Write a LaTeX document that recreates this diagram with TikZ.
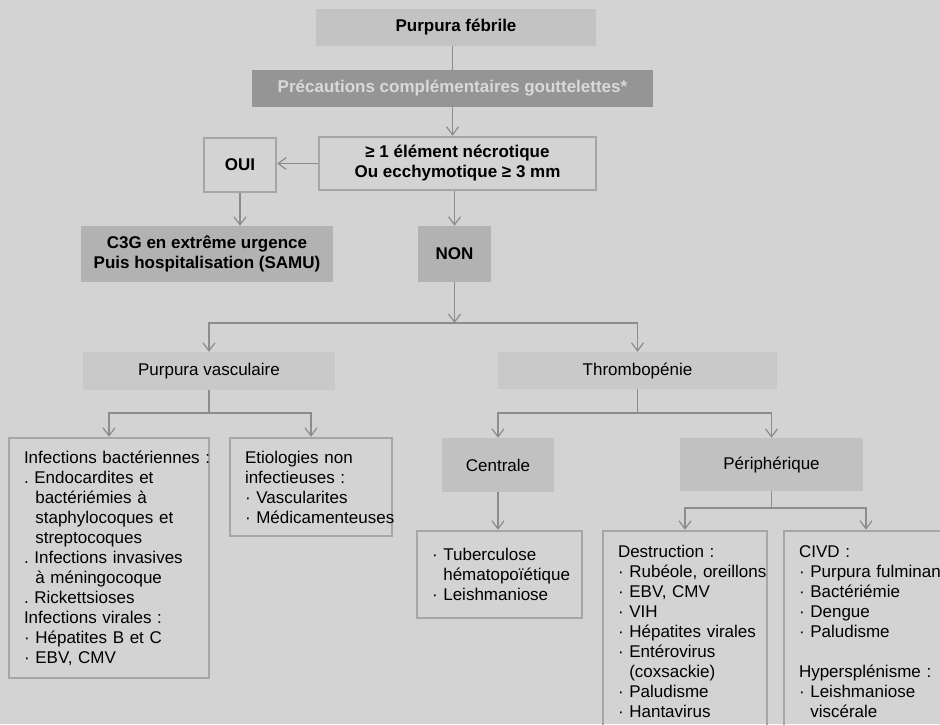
\documentclass[tikz,border=0pt]{standalone}
\usepackage{fontspec}
\setmainfont{Liberation Sans}
\usepackage{tikz}
\usetikzlibrary{arrows.meta,positioning}

\definecolor{fond}{HTML}{D3D3D3}
\definecolor{grisA}{HTML}{C3C3C3}
\definecolor{grisB}{HTML}{959595}
\definecolor{grisC}{HTML}{B2B2B2}
\definecolor{grisD}{HTML}{C9C9C9}
\definecolor{grisE}{HTML}{C1C1C1}
\definecolor{texteclair}{HTML}{D9D9D9}
\definecolor{bord}{HTML}{A6A6A6}
\definecolor{lienc}{HTML}{8C8C8C}

\newcommand{\corps}{\fontsize{17}{20}\selectfont}
\newcommand{\retrait}{\hphantom{·~}}
\hyphenpenalty=10000
\exhyphenpenalty=10000
\frenchspacing

\tikzset{
	boite/.style={inner sep=0pt, align=center, font=\corps},
	gras/.style={boite, font=\corps\bfseries},
	cadre/.style={gras, draw=bord, line width=2.5pt},
	liste/.style={draw=bord, line width=2.5pt, align=left, inner xsep=15pt, inner ysep=0pt, font=\corps},
	lien/.style={draw=lienc, line width=1.2pt},
	fleche/.style={lien, -{Straight Barb[length=8pt,width=12pt]}}
}

\begin{document}
\begin{tikzpicture}[x=1pt, y=-1pt]
	
	\useasboundingbox (0,0) rectangle (940,724);
	\fill[fond] (0,0) rectangle (940,724);
	\clip (0,0) rectangle (940,724);
	
	% haut du schema
	\node[gras, fill=grisA, minimum width=280pt, minimum height=37pt] (fievre) at (456,27.5) {Purpura fébrile};
	\node[gras, fill=grisB, text=texteclair, minimum width=401pt, minimum height=37pt] (precau) at (452.5,88.5) {Précautions complémentaires gouttelettes*};
	\node[cadre, minimum width=277pt, minimum height=53pt] (necro) at (457.5,163.5) {≥ 1 élément nécrotique\\Ou ecchymotique ≥ 3 mm};
	\node[cadre, minimum width=72pt, minimum height=54pt] (oui) at (240,165) {OUI};
	\node[gras, fill=grisC, minimum width=252pt, minimum height=56pt] (c3g) at (207,254) {C3G en extrême urgence\\Puis hospitalisation (SAMU)};
	\node[gras, fill=grisC, minimum width=73pt, minimum height=56pt] (non) at (454.5,254) {NON};
	
	% deux grandes branches
	\node[boite, fill=grisD, minimum width=252pt, minimum height=38pt] (vasc) at (209,371) {Purpura vasculaire};
	\node[boite, fill=grisD, minimum width=279pt, minimum height=37pt] (thrombo) at (637.5,370.5) {Thrombopénie};
	\node[boite, fill=grisE, minimum width=112pt, minimum height=54pt] (centrale) at (498,465) {Centrale};
	\node[boite, fill=grisE, minimum width=183pt, minimum height=53pt] (periph) at (771.5,464.5) {Périphérique};
	
	% listes
	\node[liste, text width=170pt, minimum height=240pt] (infect) at (109,558) {Infections~bactériennes~:\\. Endocardites et\\\retrait bactériémies à\\\retrait staphylocoques et\\\retrait streptocoques\\. Infections invasives\\\retrait à méningocoque\\. Rickettsioses\\Infections virales :\\· Hépatites B et C\\· EBV, CMV};
	\node[liste, text width=132pt, minimum height=98pt] (etio) at (311,487) {Etiologies non\\infectieuses :\\· Vascularites\\·~Médicamenteuses};
	\node[liste, text width=135pt, minimum height=87pt] (tuber) at (499.5,574.5) {· Tuberculose\\\retrait hématopoïétique\\· Leishmaniose};
	\node[liste, text width=134pt, minimum height=201pt] (destr) at (685,631.5) {Destruction :\\·~Rubéole,~oreillons\\· EBV, CMV\\· VIH\\·~Hépatites~virales\\· Entérovirus\\\retrait(coxsackie)\\· Paludisme\\· Hantavirus};
	\node[liste, text width=134pt, minimum height=201pt] (civd) at (866,631.5) {CIVD :\\·~Purpura~fulminans\\· Bactériémie\\· Dengue\\· Paludisme\\[20pt]Hypersplénisme :\\· Leishmaniose\\\retrait viscérale};
	
	% fourches
	\coordinate (f1) at (454.5,323);
	\coordinate (f2) at (209,413);
	\coordinate (f3) at (637.5,413);
	\coordinate (f4) at (771.5,508);
	
	\draw[lien] (precau.north) -- (precau.north |- fievre.south);
	\draw[fleche] (precau.south) -- (precau.south |- necro.north);
	\draw[fleche] (necro.west) -- (necro.west -| oui.east);
	\draw[fleche] (oui.south) -- (oui.south |- c3g.north);
	\draw[fleche] (non.north |- necro.south) -- (non.north);
	
	\draw[fleche] (non.south) -- (f1);
	\draw[fleche] (f1) -| (vasc.north);
	\draw[fleche] (f1) -| (thrombo.north);
	
	\draw[lien] (vasc.south) -- (f2);
	\draw[fleche] (f2) -| (infect.north);
	\draw[fleche] (f2) -| (etio.north);
	
	\draw[lien] (thrombo.south) -- (f3);
	\draw[fleche] (f3) -| (centrale.north);
	\draw[fleche] (f3) -| (periph.north);
	\draw[fleche] (centrale.south) -- (centrale.south |- tuber.north);
	
	\draw[lien] (periph.south) -- (f4);
	\draw[fleche] (f4) -| (destr.north);
	\draw[fleche] (f4) -| (civd.north);
	
\end{tikzpicture}
\end{document}
